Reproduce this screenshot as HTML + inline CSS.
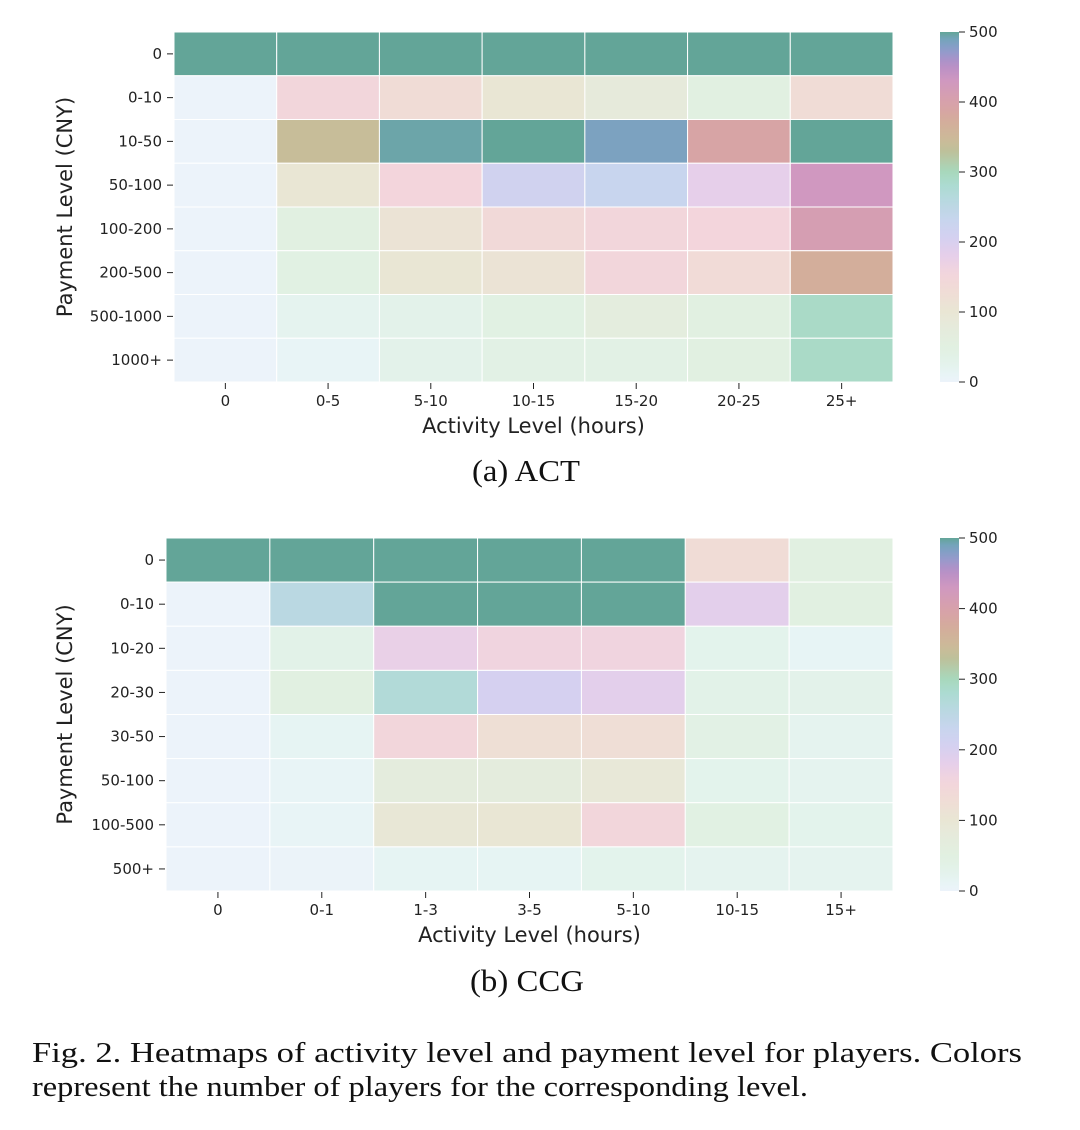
<!DOCTYPE html>
<html><head><meta charset="utf-8"><style>
body{margin:0;background:#fff;}
svg{display:block;}
.tk{font-family:"DejaVu Sans","Liberation Sans",sans-serif;font-size:15px;fill:#222;}
.ttl{font-family:"DejaVu Sans","Liberation Sans",sans-serif;font-size:21px;fill:#222;}
.cap{font-family:"Liberation Serif",serif;font-size:28px;fill:#111;}
.sub{font-family:"Liberation Serif",serif;font-size:31px;fill:#111;}
</style></head><body>
<svg id="root" width="1080" height="1130" viewBox="0 0 1080 1130" xmlns="http://www.w3.org/2000/svg">
<defs><linearGradient id="cbgrad" x1="0" y1="1" x2="0" y2="0"></linearGradient></defs>
<g id="chartA"></g>
<g id="chartB"></g>
<text class="sub" x="472" y="481" textLength="108" lengthAdjust="spacingAndGlyphs">(a)  ACT</text>
<text class="sub" x="470" y="991" textLength="114" lengthAdjust="spacingAndGlyphs">(b)  CCG</text>
<text class="cap" x="32" y="1062" textLength="990" lengthAdjust="spacingAndGlyphs">Fig. 2.  Heatmaps of activity level and payment level for players. Colors</text>
<text class="cap" x="32" y="1096" textLength="776" lengthAdjust="spacingAndGlyphs">represent the number of players for the corresponding level.</text>
</svg>
<script>
// ACT data
const actCols = ["0","0-5","5-10","10-15","15-20","20-25","25+"];
const actRows = ["0","0-10","10-50","50-100","100-200","200-500","500-1000","1000+"];
const actValues = [
 [500,500,500,500,500,500,500],
 [0,150,130,100,80,50,130],
 [0,340,495,500,485,390,500],
 [0,100,155,215,230,180,430],
 [0,50,110,140,150,155,410],
 [0,45,100,110,150,135,370],
 [0,20,30,45,65,50,290],
 [0,10,30,40,40,50,290]
];
// CCG data
const ccgCols = ["0","0-1","1-3","3-5","5-10","10-15","15+"];
const ccgRows = ["0","0-10","10-20","20-30","30-50","50-100","100-500","500+"];
const ccgValues = [
 [500,500,500,500,500,130,50],
 [0,255,500,500,500,185,50],
 [0,35,175,160,160,25,12],
 [0,50,270,205,185,35,30],
 [0,15,150,120,125,40,20],
 [0,10,70,70,90,25,20],
 [0,10,95,100,150,45,25],
 [0,2,15,15,25,20,20]
];
const cbTicks = [0,100,200,300,400,500];

const stops=[[0,"#ecf3fa"],[10,"#e8f4f6"],[25,"#e3f3ec"],[50,"#e1f0e1"],[80,"#e6eadb"],[100,"#e9e6d4"],[130,"#f0dcd6"],[155,"#f3d5dc"],[180,"#e6cfea"],[205,"#d5d0f0"],[230,"#c8d5ee"],[255,"#bad8e2"],[280,"#acdbd2"],[300,"#a8d8bc"],[330,"#bec09a"],[345,"#ccbb98"],[375,"#d4ab9c"],[395,"#d8a2a8"],[430,"#d098c0"],[455,"#b48fc8"],[475,"#8c9dcc"],[490,"#74a4ba"],[500,"#63a598"]];
function hex(h){return [1,3,5].map(i=>parseInt(h.substr(i,2),16));}
function cmap(v){
  v=Math.max(0,Math.min(500,v));
  for(let i=1;i<stops.length;i++){
    if(v<=stops[i][0]){const a=hex(stops[i-1][1]),b=hex(stops[i][1]);const t=(v-stops[i-1][0])/(stops[i][0]-stops[i-1][0]);
      return "rgb("+a.map((c,k)=>Math.round(c+(b[k]-c)*t)).join(",")+")";}
  }
  return stops[stops.length-1][1];
}
const NS="http://www.w3.org/2000/svg";
function el(tag,attrs,parent){const e=document.createElementNS(NS,tag);for(const k in attrs)e.setAttribute(k,attrs[k]);parent.appendChild(e);return e;}

const grad=document.getElementById('cbgrad');
for(let v=0;v<=500;v+=10){el('stop',{offset:(v/500),'stop-color':cmap(v)},grad);}

function draw(g,cols,rows,vals,L,T,R,B,yTitleX,cbT,cbB){
  const cw=(R-L)/cols.length, rh=(B-T)/rows.length;
  const xS=i=>L+i*cw, yS=j=>T+j*rh;
  rows.forEach((r,j)=>cols.forEach((c,i)=>{
    const rc=el('rect',{x:xS(i),y:yS(j),width:cw,height:rh,fill:cmap(vals[j][i]),stroke:"#fff","stroke-width":1},g);
    
    
  }));
  rows.forEach((r,j)=>{
    const y=yS(j)+rh/2;
    el('line',{x1:L-7,x2:L-1,y1:y,y2:y,stroke:"#222","stroke-width":1},g);
    const t=el('text',{x:L-12,y:y+5,'text-anchor':'end',class:'tk'},g);t.textContent=r;
    
    
  });
  cols.forEach((c,i)=>{
    const x=xS(i)+cw/2;
    el('line',{x1:x,x2:x,y1:B+1,y2:B+7,stroke:"#222","stroke-width":1},g);
    const t=el('text',{x:x,y:B+24,'text-anchor':'middle',class:'tk'},g);t.textContent=c;
    
    
  });
  const xt=el('text',{x:(L+R)/2,y:B+51,'text-anchor':'middle',class:'ttl'},g);xt.textContent="Activity Level (hours)";
  
  
  const yc=(T+B)/2;
  const yt=el('text',{x:yTitleX,y:yc,'text-anchor':'middle',class:'ttl',transform:'rotate(-90 '+yTitleX+' '+yc+')'},g);yt.textContent="Payment Level (CNY)";
  
  
  const cb=el('rect',{x:940,y:cbT,width:19,height:cbB-cbT,fill:"url(#cbgrad)"},g);
  
  
  cbTicks.forEach(v=>{
    const y=cbB-(v/500)*(cbB-cbT);
    el('line',{x1:959,x2:965,y1:y,y2:y,stroke:"#222","stroke-width":1},g);
    const t=el('text',{x:969,y:y+5,class:'tk'},g);t.textContent=v;
    
    
  });
}
draw(document.getElementById('chartA'),actCols,actRows,actValues,174,32,893,382,72,32,382);
draw(document.getElementById('chartB'),ccgCols,ccgRows,ccgValues,166,538,893,891,72,538,891);
</script>
</body></html>
